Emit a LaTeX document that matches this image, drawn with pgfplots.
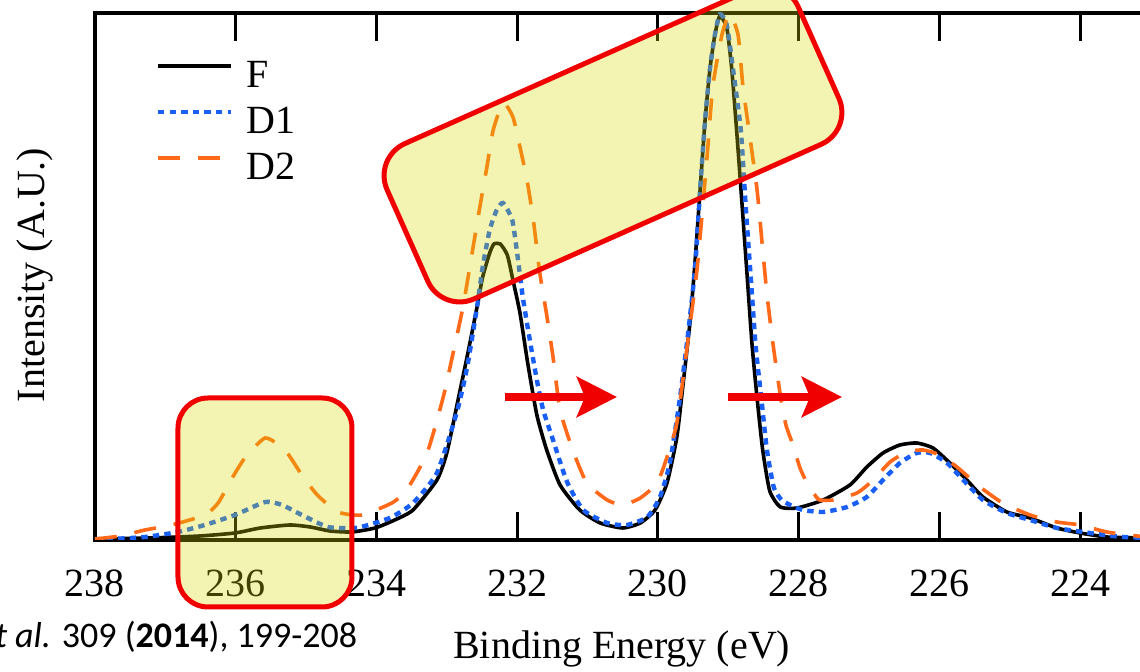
\documentclass[border=0pt]{standalone}
\usepackage{fontspec}
\setmainfont{Liberation Serif}
\newfontfamily\calibri{Carlito}
\usepackage{pgfplots}
\pgfplotsset{compat=1.18}
\usetikzlibrary{arrows.meta}
\definecolor{dblue}{RGB}{25,95,245}
\definecolor{dorange}{RGB}{255,105,25}
\definecolor{hlfill}{RGB}{215,215,0}
\definecolor{hlred}{RGB}{240,0,0}

\begin{document}
\begin{tikzpicture}
\path[use as bounding box, clip] (0,0) rectangle (285pt,168pt);
\begin{axis}[
    at={(23.75pt,33pt)}, anchor=south west,
    scale only axis,
    width=272.65pt, height=131.75pt,
    x dir=reverse,
    xmin=222.5, xmax=238,
    ymin=0, ymax=527,
    xtick={224,226,...,238},
    ytick=\empty,
    tick align=inside,
    major tick length=7pt,
    tick style={line width=0.75pt, black},
    axis line style={line width=1pt},
    /pgf/number format/assume math mode=true,
    xticklabel style={font=\fontsize{10}{12}\selectfont, yshift=-4pt},
    xlabel={Binding Energy (eV)},
    ylabel={Intensity (A.U.)},
    xlabel style={at={(axis description cs:0.483,-0.207)}, anchor=center, font=\fontsize{10}{12}\selectfont},
    ylabel style={at={(axis description cs:-0.055,0.503)}, anchor=center, font=\fontsize{10}{12}\selectfont},
    legend style={draw=none, fill=none, at={(axis description cs:0.055,0.92)}, anchor=north west,
        inner sep=0pt, row sep=0.5pt, font=\fontsize{10}{12}\selectfont,
        nodes={text height=7pt, text depth=2pt, inner sep=1pt}},
    legend cell align=left,
    legend image code/.code={\draw[#1] (0pt,0.3em) -- (18.25pt,0.3em); \path (20.5pt,0.3em);},
    every axis plot/.append style={smooth, tension=0.35},
]
\addplot[black, line width=0.9pt] coordinates {
(238.00,1) (237.22,2) (236.51,4) (236.01,7) (235.65,12) (235.23,15) (234.94,13) (234.66,9)
(234.35,8) (234.02,12) (233.74,20) (233.48,30) (233.14,60) (233.00,87) (232.84,140) (232.70,187)
(232.57,233) (232.49,263) (232.39,287) (232.33,296) (232.24,296) (232.14,285) (232.06,260) (231.96,227)
(231.85,177) (231.72,125) (231.58,90) (231.39,55) (231.11,30) (230.82,17) (230.50,12) (230.25,17)
(230.04,30) (229.87,57) (229.73,103) (229.64,157) (229.54,220) (229.47,280) (229.40,350)
(229.33,419) (229.26,471) (229.19,505) (229.12,524) (229.02,512) (228.95,471) (228.88,409)
(228.80,332) (228.73,263) (228.66,194) (228.59,142) (228.51,90) (228.41,49) (228.26,33)
(228.02,32) (227.65,40) (227.27,55) (227.03,73) (226.80,87) (226.56,95) (226.32,97) (226.09,92)
(225.85,77) (225.61,60) (225.38,43) (225.04,28) (224.71,22) (224.33,12) (224.00,7) (223.62,3)
(223.15,2) (222.58,1)
};
\addplot[dblue, line width=1.1pt, dash pattern=on 1.6pt off 1.3pt] coordinates {
(238.00,1) (237.76,1) (237.29,3) (236.82,8) (236.44,15) (236.01,25) (235.58,38) (235.34,35)
(235.06,25) (234.69,13) (234.30,12) (234.02,17) (233.78,23) (233.48,37) (233.14,67) (232.86,127)
(232.71,173) (232.57,233) (232.49,273) (232.39,310) (232.29,330) (232.20,337) (232.07,320)
(232.00,287) (231.92,243) (231.82,200) (231.72,160) (231.63,130) (231.49,100) (231.29,58)
(231.06,30) (230.72,17) (230.44,15) (230.15,23) (229.97,43) (229.83,77) (229.69,140) (229.57,207)
(229.47,273) (229.40,350) (229.33,419) (229.26,471) (229.19,505) (229.12,526) (229.02,515)
(228.93,470) (228.82,409) (228.75,332) (228.68,263) (228.61,194) (228.53,142) (228.45,90)
(228.35,52) (228.24,40) (228.09,34) (227.94,30) (227.65,28) (227.31,33) (227.03,43) (226.80,60)
(226.56,77) (226.32,87) (226.13,87) (225.89,77) (225.66,60) (225.38,40) (225.04,27) (224.71,20)
(224.33,12) (223.86,7) (223.39,3) (222.58,1)
};
\addplot[dorange, line width=0.9pt, dash pattern=on 5.5pt off 4.5pt] coordinates {
(238.00,1) (237.64,4) (237.29,10) (236.91,15) (236.44,25) (236.25,37) (236.05,62) (235.87,82)
(235.58,102) (235.30,90) (235.06,65) (234.84,45) (234.55,28) (234.21,25) (233.78,37) (233.57,50)
(233.28,87) (233.05,143) (232.91,187) (232.77,233) (232.64,287) (232.53,333) (232.43,373)
(232.34,410) (232.20,437) (232.06,423) (231.96,393) (231.86,360) (231.77,320) (231.68,268)
(231.58,225) (231.49,183) (231.39,130) (231.21,90) (231.01,57) (230.72,40) (230.50,35) (230.25,42)
(230.01,57) (229.87,83) (229.73,117) (229.59,190) (229.44,273) (229.30,384) (229.22,453)
(229.09,505) (228.98,526) (228.86,505) (228.79,453) (228.69,402) (228.59,350) (228.52,298)
(228.45,246) (228.36,194) (228.26,145) (228.18,115) (228.08,95) (227.98,72) (227.88,57)
(227.78,46) (227.70,40) (227.51,40) (227.17,47) (226.94,60) (226.70,78) (226.46,88) (226.23,90)
(225.99,85) (225.75,73) (225.42,53) (225.10,37) (224.71,25) (224.33,18) (224.00,15) (223.62,8)
(223.19,4) (222.58,1)
};
\legend{F, D1, D2}
\end{axis}
% overlays, in pixel units of the 1140x672 frame (y downwards)
\begin{scope}[x=0.25pt, y=-0.25pt, yshift=168pt]
\fill[hlfill, fill opacity=0.3, rounded corners=7.5pt] (178,398) rectangle (352,607);
\draw[hlred, line width=1.25pt, rounded corners=7.5pt] (178,398) rectangle (352,607);
\node[rotate=24, minimum width=112.5pt, minimum height=42.5pt, rounded corners=8.75pt,
      fill=hlfill, fill opacity=0.3, draw=hlred, draw opacity=1, line width=1.25pt] at (613,144) {};
\draw[hlred, line width=2.2pt, -{Stealth[length=10pt, width=10pt, inset=2pt]}] (505,397) -- (617,397);
\draw[hlred, line width=2.2pt, -{Stealth[length=10pt, width=10pt, inset=2pt]}] (728,397) -- (842,397);
\node[anchor=base east, inner sep=0pt, font=\calibri\fontsize{9}{11}\selectfont] at (358,648)
    {\textit{et al.} 309 (\textbf{2014}), 199-208};
\end{scope}
\end{tikzpicture}
\end{document}
